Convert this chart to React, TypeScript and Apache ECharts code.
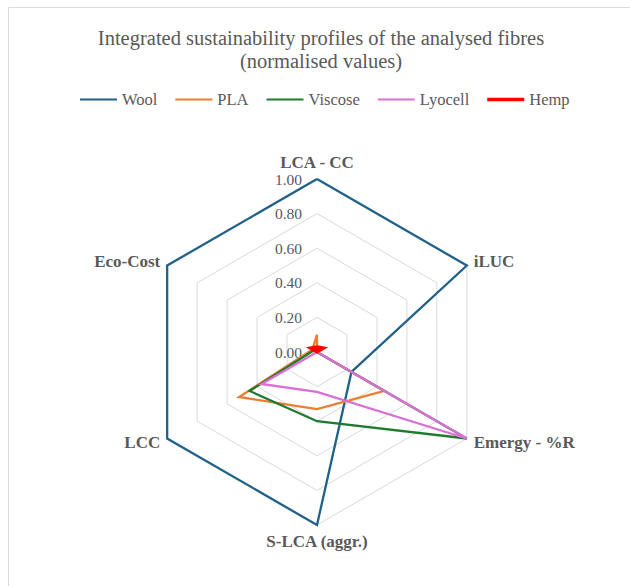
import React, { useEffect, useRef } from "react";
import * as echarts from "echarts";

// Indicators in clockwise order starting from the top (as drawn in the reference)
const indicatorNames = ["LCA - CC", "iLUC", "Emergy - %R", "S-LCA (aggr.)", "LCC", "Eco-Cost"];
const seriesNames = ["Wool", "PLA", "Viscose", "Lyocell", "Hemp"];
const wool = [1, 1, 0.23, 1, 1, 1];
const pla = [0.1, 0, 0.45, 0.33, 0.52, 0.03];
const viscose = [0.02, 0, 1, 0.4, 0.45, 0.02];
const lyocell = [0, 0, 1, 0.23, 0.37, 0];
const hemp = [0.03, 0.045, 0, 0, 0, 0.045];
const seriesValues = [wool, pla, viscose, lyocell, hemp];
const seriesColors = ["#1f6188", "#ed7d31", "#1e7b2e", "#da70d6", "#ff0000"];
const seriesWidths = [2.3, 2.3, 2.3, 2.3, 3.2];

// ECharts places indicators counter-clockwise; reorder to get a clockwise layout
const toCCW = <T,>(arr: T[]): T[] => [arr[0], arr[5], arr[4], arr[3], arr[2], arr[1]];

const FONT = "Liberation Serif";
const GREY = "#595959";

export default function App() {
  const ref = useRef<HTMLDivElement>(null);
  useEffect(() => {
    if (!ref.current) return;
    const chart = echarts.init(ref.current, undefined, { renderer: "svg" });
    const thinIcon = "path://M0,0M0,5M0,1.4L40,1.4L40,3.6L0,3.6Z";
    const thickIcon = "path://M0,0M0,5M0,0.7L40,0.7L40,4.3L0,4.3Z";
    chart.setOption({
      animation: false,
      backgroundColor: "#ffffff",
      textStyle: { fontFamily: FONT },
      title: {
        text: "Integrated sustainability profiles of the analysed fibres\n(normalised values)",
        left: 316,
        top: 21,
        textAlign: "center",
        textStyle: {
          fontFamily: FONT,
          fontWeight: "normal",
          fontSize: 20.5,
          lineHeight: 23.5,
          color: GREY,
        },
      },
      legend: {
        left: 75,
        top: 86,
        itemWidth: 37,
        itemHeight: 5,
        itemGap: 18,
        selectedMode: false,
        textStyle: { fontFamily: FONT, fontSize: 16.5, color: GREY },
        data: seriesNames.map((n, i) => ({ name: n, icon: i === 4 ? thickIcon : thinIcon })),
      },
      graphic: [
        {
          type: "rect",
          silent: true,
          z: -10,
          shape: { x: 8.5, y: 7.5, width: 700, height: 700 },
          style: { fill: "none", stroke: "#d9d9d9", lineWidth: 1 },
        },
      ],
      radar: {
        center: [317, 352],
        radius: 173,
        startAngle: 90,
        shape: "polygon",
        splitNumber: 5,
        nameGap: 8,
        axisName: { color: GREY, fontFamily: FONT, fontWeight: "bold", fontSize: 17 },
        axisLine: { show: false },
        axisTick: { show: false },
        axisLabel: { show: false },
        splitLine: { lineStyle: { color: "#d9d9d9", width: 1 } },
        splitArea: { show: false },
        indicator: toCCW(indicatorNames).map((n, i) => {
          const base: any = { name: n, min: 0, max: 1 };
          if (i === 0) {
            base.axisLabel = {
              show: true,
              margin: 15,
              fontFamily: FONT,
              fontSize: 15.5,
              color: GREY,
              formatter: (v: number) => Number(v).toFixed(2),
            };
          }
          return base;
        }),
      },
      series: [
        {
          type: "radar",
          symbol: "none",
          data: seriesNames.map((n, i) => ({
            name: n,
            value: toCCW(seriesValues[i]),
            itemStyle: { color: seriesColors[i] },
            lineStyle: { color: seriesColors[i], width: seriesWidths[i], join: "miter" },
            areaStyle: i === 4 ? { color: seriesColors[i], opacity: 1 } : undefined,
          })),
        },
      ],
    });
    return () => chart.dispose();
  }, []);
  return (
    <div
      ref={ref}
      style={{ position: "fixed", left: 0, top: 0, width: 630, height: 586, background: "#fff" }}
    />
  );
}
